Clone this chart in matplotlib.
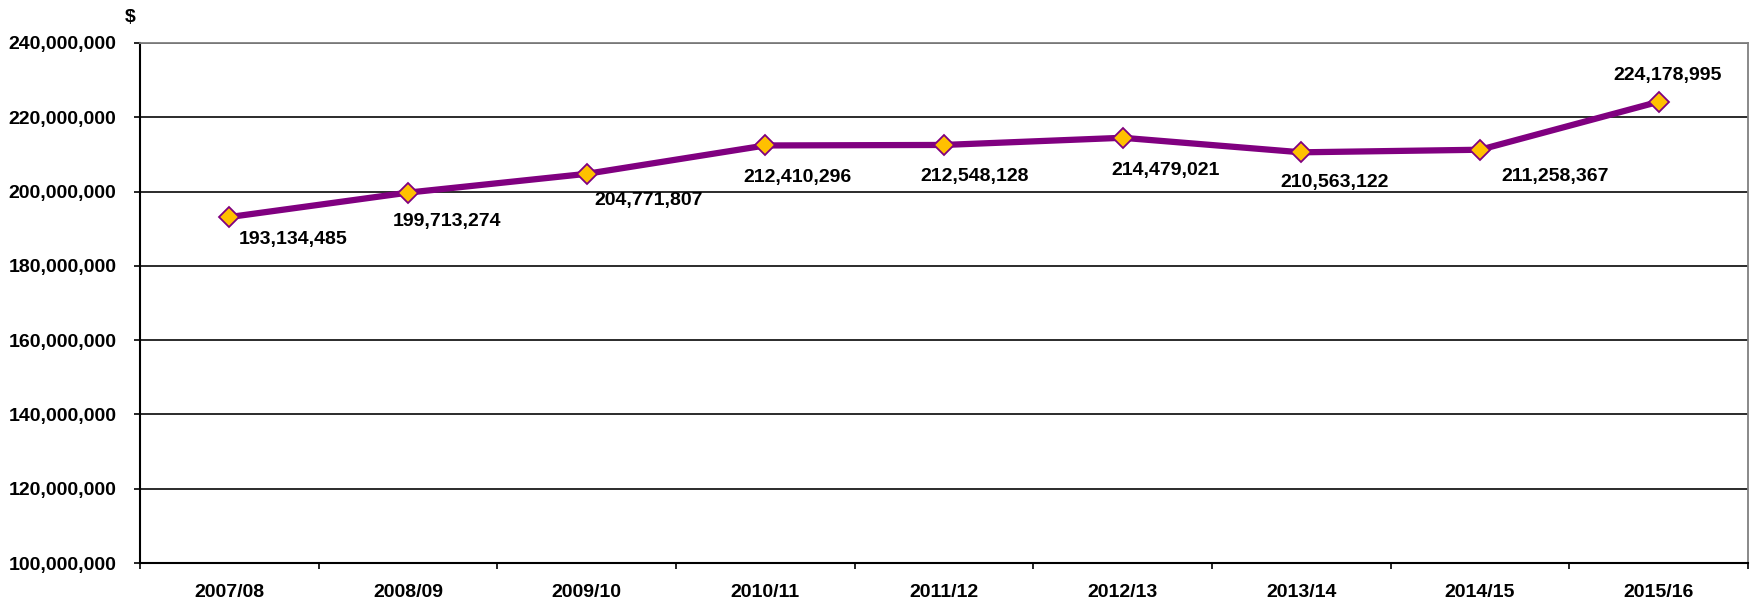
import matplotlib
matplotlib.use("Agg")
import matplotlib.pyplot as plt
from matplotlib.ticker import FuncFormatter, FixedLocator
import numpy as np

plt.rcParams['font.family'] = ['Liberation Sans', 'DejaVu Sans']

years = ["2007/08", "2008/09", "2009/10", "2010/11", "2011/12",
         "2012/13", "2013/14", "2014/15", "2015/16"]
values = [193134485, 199713274, 204771807, 212410296, 212548128,
          214479021, 210563122, 211258367, 224178995]
y_ticks = [100000000, 120000000, 140000000, 160000000, 180000000,
           200000000, 220000000, 240000000]

# label offsets in pixels (dx, dy) relative to markers
label_dx = [64, 39, 62, 32, 31, 43, 33, 75, 9]
label_dy = [-22, -29, -27, -32, -32, -33, -30, -27, 26]

fig = plt.figure(figsize=(17.54, 6.01), dpi=100)
ax = fig.add_axes([0.0798, 0.0632, 0.9168, 0.8653])

x = np.arange(len(years))
ax.plot(x, values, color='#800080', linewidth=4.5, zorder=3)
ax.plot(x, values, linestyle='none', marker='D', markersize=10.5,
        markerfacecolor='#FFC000', markeredgecolor='#800080',
        markeredgewidth=1.3, zorder=4)

for xi, v, dx, dy in zip(x, values, label_dx, label_dy):
    ax.annotate(f"{v:,}", (xi, v), xytext=(dx, dy), textcoords='offset pixels',
                ha='center', va='center', fontsize=14, fontweight='bold',
                color='black', zorder=5)

ax.set_xlim(-0.5, len(years) - 0.5)
ax.set_ylim(100000000, 240000000)
ax.yaxis.set_major_locator(FixedLocator(y_ticks))
ax.yaxis.set_major_formatter(FuncFormatter(lambda v, p: f"{int(v):,}"))
ax.set_xticks(x)
ax.set_xticklabels(years)
ax.set_xticks(np.arange(-0.5, len(years), 1.0), minor=True)

ax.tick_params(axis='x', which='major', length=0, pad=15, labelsize=14)
ax.tick_params(axis='x', which='minor', length=4, width=1.2, direction='out', color='black')
ax.tick_params(axis='y', which='major', length=4, width=1.2, direction='out',
               pad=13, labelsize=14)
for lab in ax.get_xticklabels() + ax.get_yticklabels():
    lab.set_fontweight('bold')

ax.grid(axis='y', color='#1a1a1a', linewidth=1.3, zorder=1)
ax.set_axisbelow(True)
ax.spines['left'].set_color('black')
ax.spines['left'].set_linewidth(1.5)
ax.spines['bottom'].set_color('black')
ax.spines['bottom'].set_linewidth(1.5)
ax.spines['top'].set_color('#808080')
ax.spines['top'].set_linewidth(1.3)
ax.spines['right'].set_color('#808080')
ax.spines['right'].set_linewidth(1.3)

fig.text(130 / 1754, 1 - 17 / 601, "$", ha='center', va='center',
         fontsize=14, fontweight='bold')

fig.savefig("out.png", dpi=100)
